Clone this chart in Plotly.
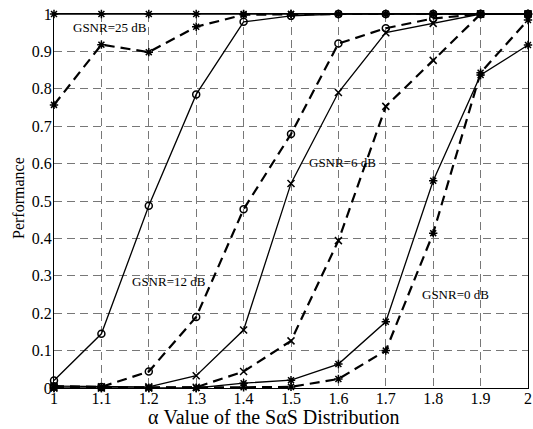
import plotly.graph_objects as go

alpha = [1.0, 1.1, 1.2, 1.3, 1.4, 1.5, 1.6, 1.7, 1.8, 1.9, 2.0]

snr25_solid = [1.0, 1.0, 1.0, 1.0, 1.0, 1.0, 1.0, 1.0, 1.0, 1.0, 1.0]
snr25_dash = [0.757, 0.918, 0.898, 0.966, 0.998, 1.0, 1.0, 1.0, 1.0, 1.0, 1.0]
snr12_solid = [0.02, 0.145, 0.487, 0.785, 0.979, 0.995, 1.0, 1.0, 1.0, 1.0, 1.0]
snr12_dash = [0.005, 0.003, 0.044, 0.19, 0.478, 0.679, 0.921, 0.962, 0.988, 1.0, 1.0]
snr6_solid = [0.005, 0.003, 0.003, 0.033, 0.155, 0.547, 0.79, 0.95, 0.975, 1.0, 1.0]
snr6_dash = [0.0, 0.0, 0.0, 0.002, 0.044, 0.126, 0.394, 0.753, 0.876, 1.0, 1.0]
snr0_solid = [0.0, 0.0, 0.0, 0.0, 0.013, 0.021, 0.064, 0.177, 0.554, 0.837, 0.917]
snr0_dash = [0.0, 0.0, 0.0, 0.0, 0.002, 0.003, 0.024, 0.1, 0.414, 0.843, 0.984]

x_ticks = [1.0, 1.1, 1.2, 1.3, 1.4, 1.5, 1.6, 1.7, 1.8, 1.9, 2.0]
x_ticktext = ["1", "1.1", "1.2", "1.3", "1.4", "1.5", "1.6", "1.7", "1.8", "1.9", "2"]
y_ticks = [0, 0.1, 0.2, 0.3, 0.4, 0.5, 0.6, 0.7, 0.8, 0.9, 1.0]
y_ticktext = ["0", "0.1", "0.2", "0.3", "0.4", "0.5", "0.6", "0.7", "0.8", "0.9", "1"]

labels = ["GSNR=25 dB", "GSNR=6 dB", "GSNR=12 dB", "GSNR=0 dB"]
label_x = [1.118, 1.609, 1.243, 1.848]
label_y = [0.963, 0.604, 0.286, 0.251]

x_title = "α Value of the SαS Distribution"
y_title = "Performance"

series = [
    (snr25_solid, "solid", "asterisk-open"),
    (snr25_dash, "dash", "asterisk-open"),
    (snr12_solid, "solid", "circle-open"),
    (snr12_dash, "dash", "circle-open"),
    (snr6_solid, "solid", "x-thin-open"),
    (snr6_dash, "dash", "x-thin-open"),
    (snr0_solid, "solid", "asterisk-open"),
    (snr0_dash, "dash", "asterisk-open"),
]

fig = go.Figure()
for ys, dash, sym in series:
    fig.add_trace(go.Scatter(
        x=alpha, y=ys, mode="lines+markers",
        line=dict(color="black", width=1.3 if dash == "solid" else 2.2,
                  dash="solid" if dash == "solid" else "10px,6px"),
        marker=dict(symbol=sym, size=7, color="black",
                    line=dict(color="black", width=1.5)),
        showlegend=False, cliponaxis=False,
    ))

for t, xx, yy in zip(labels, label_x, label_y):
    fig.add_annotation(x=xx, y=yy, text=t, showarrow=False,
                       font=dict(family="Liberation Serif", size=13, color="black"))

# axis titles placed as text annotations (offset as in the reference)
fig.add_annotation(xref="paper", yref="paper", x=0.464, y=-0.0775,
                   xanchor="center", yanchor="middle",
                   text=x_title, showarrow=False,
                   font=dict(family="Liberation Serif", size=20, color="black"))
fig.add_annotation(xref="paper", yref="paper", x=-0.076, y=0.508,
                   xanchor="center", yanchor="middle",
                   text=y_title, showarrow=False, textangle=-90,
                   font=dict(family="Liberation Serif", size=16, color="black"))

axis_common = dict(
    showline=True, linecolor="black", linewidth=1.2, mirror=True,
    showgrid=True, gridcolor="#777777", griddash="8px,5px", gridwidth=1,
    zeroline=False, ticks="", automargin=False,
    tickfont=dict(family="Liberation Serif", size=16, color="black"),
)

fig.update_xaxes(range=[1, 2], tickvals=x_ticks, ticktext=x_ticktext,
                 ticklabelstandoff=-4, **axis_common)
fig.update_yaxes(range=[0, 1], tickvals=y_ticks, ticktext=y_ticktext,
                 ticklabelstandoff=-2, **axis_common)

fig.update_layout(
    width=533, height=429,
    margin=dict(l=54, r=5, t=14, b=41),
    plot_bgcolor="white", paper_bgcolor="white",
)

fig.write_html("out.html", config={"displayModeBar": False},
               post_script="document.body.style.margin='0';")
